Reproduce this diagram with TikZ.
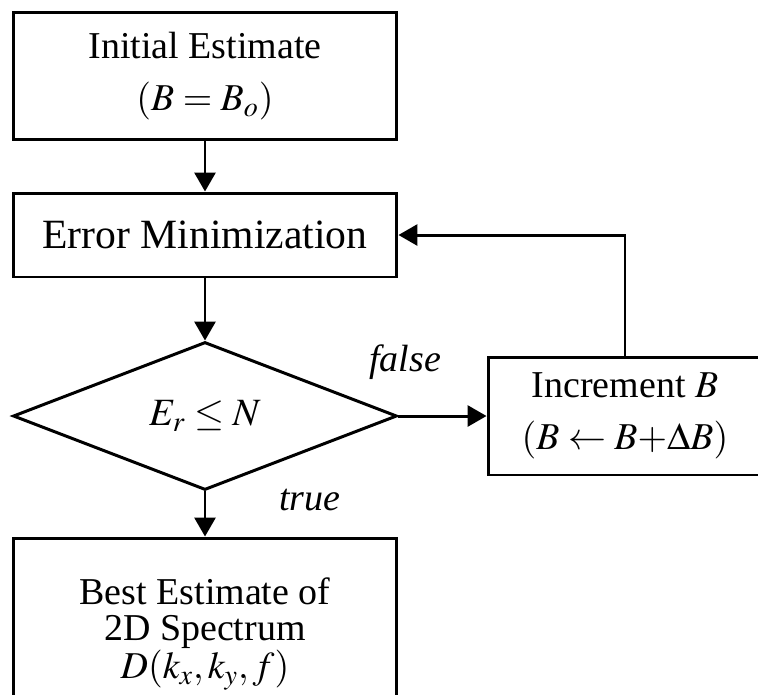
\documentclass[tikz,border=0pt]{standalone}
\usepackage{mathptmx}
\usepackage{fontspec}
\setmainfont{Liberation Serif}
\usetikzlibrary{shapes.geometric,arrows.meta}

\tikzset{
  block/.style={rectangle, draw, line width=1.7pt, align=center, inner sep=0pt,
    font={\fontsize{21.6}{29.6}\selectfont}},
  decision/.style={diamond, draw, line width=1.7pt, inner sep=0pt,
    font={\fontsize{22}{26}\selectfont}},
  tag/.style={font={\fontsize{21.6}{26}\selectfont\itshape}},
  flow/.style={-{Triangle[length=0.38cm,width=0.42cm]}, line width=1.7pt},
}

\begin{document}
\begin{tikzpicture}[x=0.02cm, y=-0.02cm]
    \useasboundingbox (0,0) rectangle (758,694);
    \node (init) [block, minimum width=7.68cm, minimum height=2.54cm] at (205,76) {Initial Estimate\\ $(B=B_o)$};
    \node (errmin) [block, minimum width=7.68cm, minimum height=1.68cm, font={\fontsize{23.7}{28}\selectfont}] at (205,235) {Error Minimization};
    \node (check) [decision, minimum width=7.68cm, minimum height=2.96cm] at (205,416) {$E_r \le N$};
    \node (incr) [block, minimum width=5.48cm, minimum height=2.36cm] at (625,416) {Increment $B$\\ $(B \leftarrow B{+}\Delta B)$};
    \node (best) [block, minimum width=7.68cm, minimum height=3.84cm, font={\fontsize{21.6}{20.5}\selectfont}] at (205,634) {Best Estimate of\\ 2D Spectrum\\ $D(k_x,k_y,f)$};
    \node (no) [tag] at (405,362) {false};
    \node (yes) [tag] at (310,500) {true};
    \draw [flow] (init) -- (errmin);
    \draw [flow] (errmin) -- (check);
    \draw [flow] (check) -- (best);
    \draw [flow] (check) -- (incr);
    \draw [flow] (incr.north) -- (incr.north |- errmin.east) -- (errmin.east);
\end{tikzpicture}
\end{document}
